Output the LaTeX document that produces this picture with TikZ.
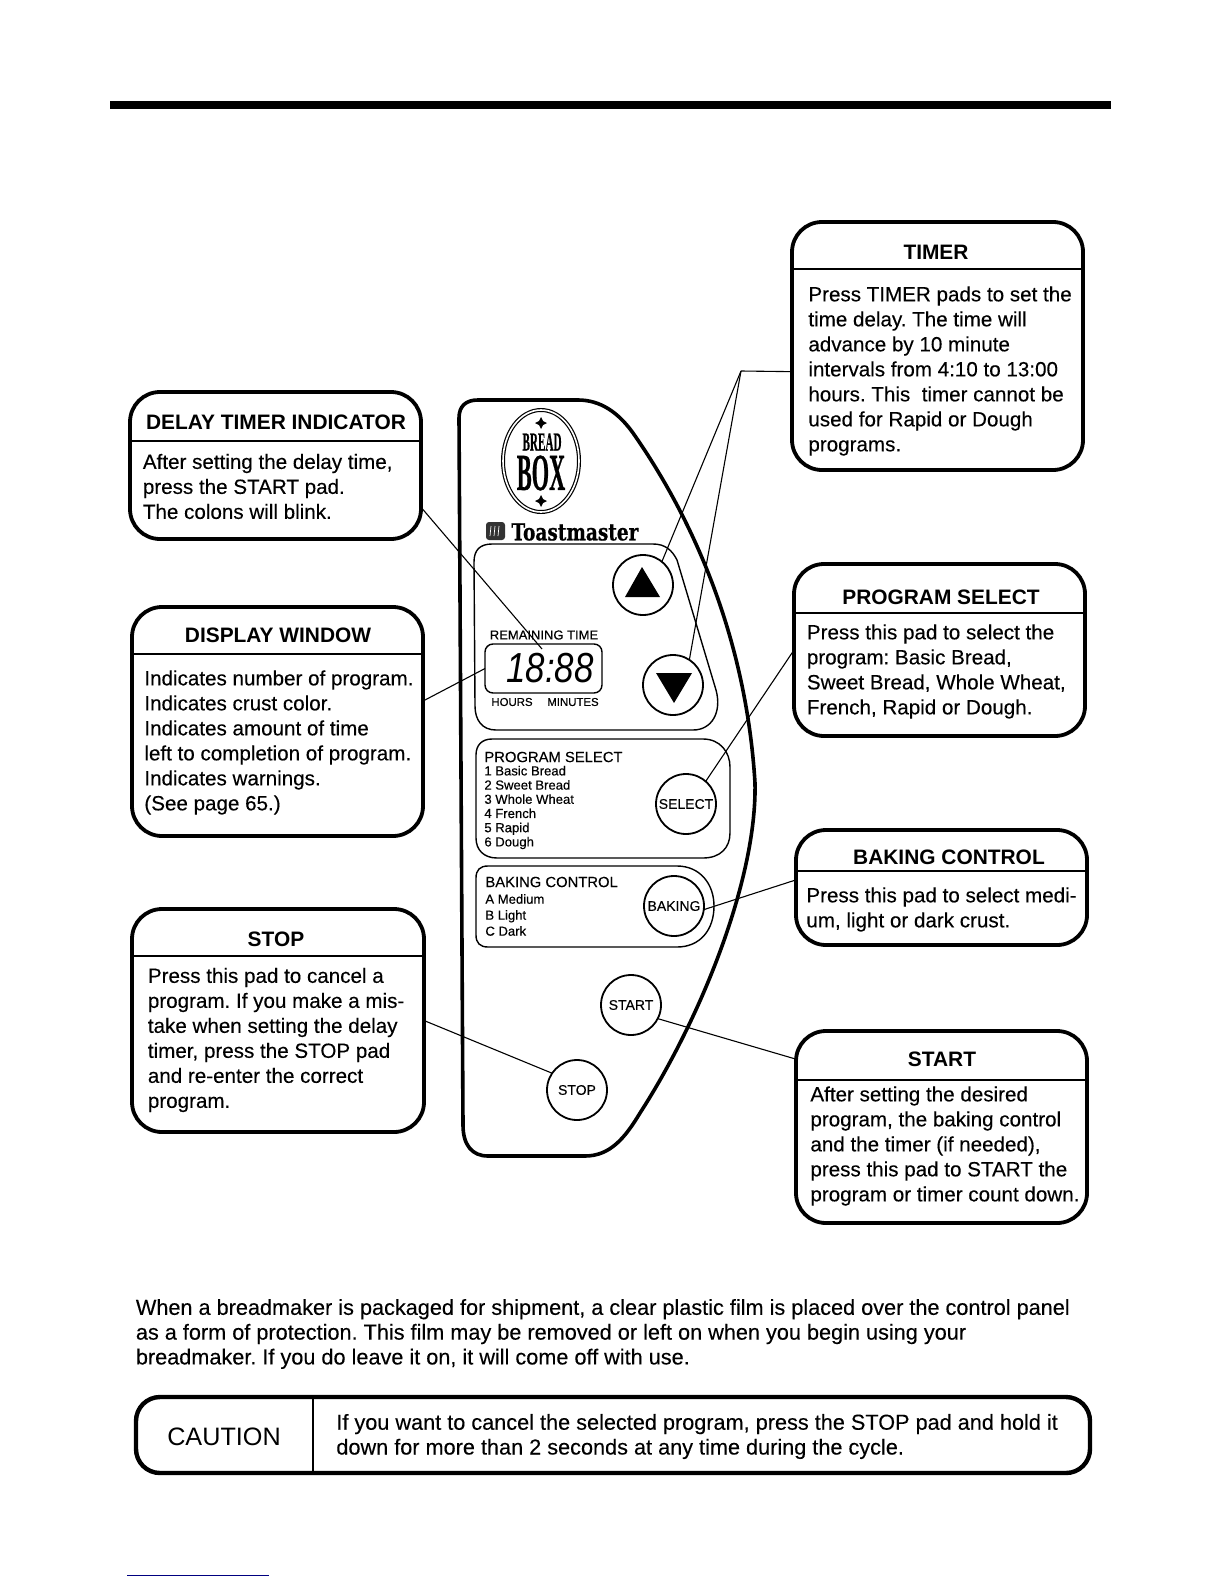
\documentclass[tikz,border=0pt]{standalone}
\usepackage{fontspec}
\setmainfont{Liberation Sans}
\newfontfamily\heavyfont{Liberation Sans}[FakeBold=0.25]
\newfontfamily\smallfont{Liberation Sans}[FakeBold=0.4]
\newfontfamily\logofont{Liberation Serif}[FakeBold=0.8]
\newfontfamily\brandfont{DejaVu Serif}[FakeBold=0.8]
\usepackage{tikz}
\usetikzlibrary{shapes.geometric, arrows}
\tikzstyle{callout} = [
    rectangle,
    rounded corners=15pt,
    line width=1.9pt,
    outer sep=0pt,
    draw=black
]
\tikzstyle{title} = [
    font=\fontsize{10.45}{12}\selectfont\bfseries,
    inner sep=0pt
]
\tikzstyle{bodytext} = [
    font=\frenchspacing\heavyfont\fontsize{10.3}{12.5}\selectfont,
    align=left,
    anchor=west,
    inner sep=0pt
]
\tikzstyle{widetext} = [
    font=\frenchspacing\heavyfont\fontsize{10.84}{12.4}\selectfont,
    align=left,
    anchor=west,
    inner sep=0pt
]
\tikzstyle{rulerline} = [line width=1pt]
\tikzstyle{pad} = [
    circle,
    minimum size=30pt,
    inner sep=0pt,
    outer sep=0pt,
    line width=0.9pt,
    font=\heavyfont\fontsize{7}{8}\selectfont,
    draw=black
]
\tikzstyle{paneltitle} = [
    font=\heavyfont\fontsize{7.4}{9}\selectfont,
    anchor=west,
    inner sep=0pt
]
\tikzstyle{panellist} = [
    font=\smallfont\fontsize{6.55}{7.1}\selectfont,
    align=left,
    anchor=west,
    inner sep=0pt
]
\tikzstyle{link} = [line width=0.55pt]

\begin{document}
\begin{tikzpicture}[x=0.5pt,y=-0.5pt]

\useasboundingbox (0,0) rectangle (1224,1584);

\fill [black] (110,101) rectangle (1111,109);

\draw [line width=1.8pt]
    (459,418) .. controls (459,406) and (466,400) .. (478,400)
    -- (578,400) .. controls (600,400) and (618,412) .. (633,433)
    .. controls (680,500) and (745,620) .. (755,783)
    .. controls (757,880) and (700,1020) .. (640,1113)
    .. controls (625,1138) and (610,1156) .. (585,1156)
    -- (488,1156) .. controls (472,1156) and (463,1145) .. (463,1125)
    -- cycle;

\draw [line width=0.7pt]
    (474,562) .. controls (474,550) and (480,544) .. (492,544)
    -- (653,544) .. controls (665,544) and (672,550) .. (677,560)
    -- (716,690) .. controls (722,712) and (712,730) .. (693,730)
    -- (496,730) .. controls (482,730) and (475,720) .. (475,706)
    -- cycle;

\draw [line width=0.7pt]
    (476,755) .. controls (476,745) and (482,739) .. (492,739)
    -- (703,739) .. controls (720,739) and (730,752) .. (730,767)
    -- (730,833) .. controls (730,848) and (720,858) .. (703,858)
    -- (497,858) .. controls (484,858) and (476,850) .. (476,838)
    -- cycle;

\draw [line width=0.7pt]
    (476,878) .. controls (476,870) and (480,866) .. (488,866)
    -- (677,866) .. controls (700,866) and (714,884) .. (714,906)
    .. controls (714,930) and (700,947) .. (677,947)
    -- (488,947) .. controls (480,947) and (476,943) .. (476,935)
    -- cycle;

\node (logo) [ellipse, double, double distance=0.8pt, line width=0.6pt, minimum width=38pt, minimum height=51pt, inner sep=0pt, draw=black] at (541,461) {};

\node (bread) [inner sep=0pt] at (542,442)
{\scalebox{.43}[1]{\logofont\bfseries\fontsize{13}{13}\selectfont BREAD}};

\node (box) [inner sep=0pt] at (541,473)
{\scalebox{.43}[1]{\logofont\bfseries\fontsize{26}{26}\selectfont BOX}};

\fill [black] (541,417) -- (543,421) -- (547,423) -- (543,425) -- (541,429) -- (539,425) -- (535,423) -- (539,421) -- cycle;
\fill [black] (541,495) -- (543,499) -- (547,501) -- (543,503) -- (541,507) -- (539,503) -- (535,501) -- (539,499) -- cycle;

\node (brandicon) [rectangle, rounded corners=1.5pt, fill=black!80, minimum width=9.5pt, minimum height=9pt, inner sep=0pt] at (495.5,531) {};
\draw [white, line width=0.35pt] (491,526) -- (490,536) (495,526) -- (494,536) (499,526) -- (498,536);

\node (brand) [inner sep=0pt, anchor=west] at (511,532)
{\resizebox{63.5pt}{8.5pt}{\brandfont\bfseries Toastmaster}};

\node (display) [rectangle, rounded corners=4pt, minimum width=58.5pt, minimum height=24.5pt, outer sep=0pt, line width=0.7pt, draw=black] at (543.5,668.5) {};

\node (digits) [inner sep=0pt] at (550,668)
{\scalebox{.83}[1]{\fontsize{21}{21}\selectfont\itshape 18:88}};

\node (remaining) [inner sep=0pt, font=\heavyfont\fontsize{6.5}{8}\selectfont] at (544,635) {REMAINING TIME};
\node (hours) [inner sep=0pt, font=\heavyfont\fontsize{5.7}{7}\selectfont] at (512,702) {HOURS};
\node (minutes) [inner sep=0pt, font=\heavyfont\fontsize{5.7}{7}\selectfont] at (573,702) {MINUTES};

\node (uppad) [pad] at (643,585) {};
\node (downpad) [pad] at (673,685) {};
\fill [black] (642,567) -- (660,597) -- (625,597) -- cycle;
\fill [black] (656,673) -- (692,673) -- (674,703) -- cycle;

\node (selecthead) [paneltitle] at (484,757) {PROGRAM SELECT};
\node (selectlist) [panellist] at (484,807.5)
{1 Basic Bread\\2 Sweet Bread\\3 Whole Wheat\\4 French\\5 Rapid\\6 Dough};
\node (selectpad) [pad] at (686,804) {SELECT};

\node (bakinghead) [paneltitle] at (485,882) {BAKING CONTROL};
\node (bakinglist) [panellist, font=\smallfont\fontsize{6.55}{8}\selectfont] at (485,915)
{A Medium\\B Light\\C Dark};
\node (bakingpad) [pad] at (674,906) {BAKING};

\node (startpad) [pad] at (631,1005) {START};
\node (stoppad) [pad] at (577,1090) {STOP};

\node (timer) [callout, minimum width=145.5pt, minimum height=124pt] at (937.5,346) {};
\node (timerhead) [title] at (936,252) {TIMER};
\node (timertext) [bodytext] at (808,371)
{Press TIMER pads to set the\\time delay. The time will\\advance by 10 minute\\intervals from 4:10 to 13:00\\hours. This\ \ timer cannot be\\used for Rapid or Dough\\programs.};
\draw [rulerline] (timer.west |- 0,269) -- (timer.east |- 0,269);

\node (delay) [callout, minimum width=145.5pt, minimum height=73.5pt] at (275.5,465.5) {};
\node (delayhead) [title] at (276,422) {DELAY TIMER INDICATOR};
\node (delaytext) [bodytext] at (142.5,486.5)
{After setting the delay time,\\press the START pad.\\The colons will blink.};
\draw [rulerline] (delay.west |- 0,441) -- (delay.east |- 0,441);

\node (window) [callout, minimum width=145.5pt, minimum height=114.5pt] at (277.5,721.5) {};
\node (windowhead) [title] at (278,635) {DISPLAY WINDOW};
\node (windowtext) [bodytext] at (144,742.5)
{Indicates number of program.\\Indicates crust color.\\Indicates amount of time\\left to completion of program.\\Indicates warnings.\\(See page 65.)};
\draw [rulerline] (window.west |- 0,654) -- (window.east |- 0,654);

\node (stop) [callout, minimum width=146pt, minimum height=111.5pt] at (278,1020.5) {};
\node (stophead) [title] at (276,939) {STOP};
\node (stoptext) [bodytext] at (147.5,1040)
{Press this pad to cancel a\\program. If you make a mis-\\take when setting the delay\\timer, press the STOP pad\\and re-enter the correct\\program.};
\draw [rulerline] (stop.west |- 0,956) -- (stop.east |- 0,956);

\node (program) [callout, minimum width=145.5pt, minimum height=86pt] at (939.5,650) {};
\node (programhead) [title] at (941,597) {PROGRAM SELECT};
\node (programtext) [bodytext] at (806.5,671.5)
{Press this pad to select the\\program: Basic Bread,\\Sweet Bread, Whole Wheat,\\French, Rapid or Dough.};
\draw [rulerline] (program.west |- 0,613) -- (program.east |- 0,613);

\node (baking) [callout, minimum width=145.5pt, minimum height=57.5pt] at (941.5,887.5) {};
\node (bakinghead2) [title] at (949,857) {BAKING CONTROL};
\node (bakingtext) [bodytext] at (806,909.5)
{Press this pad to select medi-\\um, light or dark crust.};
\draw [rulerline] (baking.west |- 0,871) -- (baking.east |- 0,871);

\node (start) [callout, minimum width=145.5pt, minimum height=96pt] at (941.5,1127) {};
\node (starthead) [title] at (942,1059) {START};
\node (starttext) [bodytext] at (810,1146)
{After setting the desired\\program, the baking control\\and the timer (if needed),\\press this pad to START the\\program or timer count down.};
\draw [rulerline] (start.west |- 0,1080) -- (start.east |- 0,1080);

\coordinate (timerjoin) at (741,371);
\coordinate (displaytip) at (542,649);

\draw [link] (timer.190) -- (timerjoin);
\draw [link] (timerjoin) -- (uppad.51);
\draw [link] (timerjoin) -- (downpad.57);
\draw [link] (delay.-16) -- (displaytip);
\draw [link] (window.8) -- (display.west);
\draw [link] (program.west) -- (selectpad.49);
\draw [link] (baking.177) -- (bakingpad.-7);
\draw [link] (start.155) -- (startpad.-27);
\draw [link] (stop.east) -- (stoppad.146);

\node (notice) [widetext] at (135.5,1334)
{When a breadmaker is packaged for shipment, a clear plastic film is placed over the control panel\\as a form of protection. This film may be removed or left on when you begin using your\\breadmaker. If you do leave it on, it will come off with use.};

\node (caution) [callout, rounded corners=12pt, line width=2.2pt, minimum width=477pt, minimum height=38pt] at (613,1435) {};
\node (cautionhead) [inner sep=0pt, font=\fontsize{12.6}{14}\selectfont] at (224,1437) {CAUTION};
\node (cautiontext) [widetext] at (336,1436.5)
{If you want to cancel the selected program, press the STOP pad and hold it\\down for more than 2 seconds at any time during the cycle.};
\draw [line width=0.6pt] (313,0 |- caution.north) -- (313,0 |- caution.south);

\draw [line width=0.5pt, blue!50!black] (127,1575) -- (269,1575);

\end{tikzpicture}
\end{document}
